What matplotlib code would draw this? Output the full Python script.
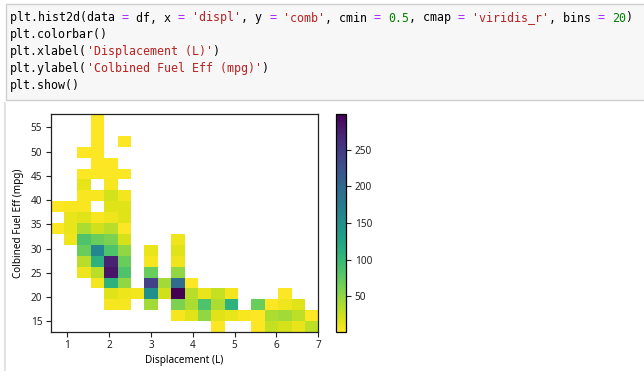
import re
import numpy as np
import matplotlib
matplotlib.use("Agg")
from matplotlib import pyplot as plt
from matplotlib.patches import Rectangle

# bin edges of the 20x20 histogram
x_min, x_max = 0.6, 7.0
y_min, y_max = 12.82, 57.78
n_bins = 20

# counts per cell, top row (highest mpg) first, columns left -> right
counts = [
    [0, 0, 0, 2, 0, 0, 0, 0, 0, 0, 0, 0, 0, 0, 0, 0, 0, 0, 0, 0],
    [0, 0, 0, 2, 0, 0, 0, 0, 0, 0, 0, 0, 0, 0, 0, 0, 0, 0, 0, 0],
    [0, 0, 0, 2, 0, 1, 0, 0, 0, 0, 0, 0, 0, 0, 0, 0, 0, 0, 0, 0],
    [0, 0, 2, 2, 0, 0, 0, 0, 0, 0, 0, 0, 0, 0, 0, 0, 0, 0, 0, 0],
    [0, 0, 0, 2, 2, 0, 0, 0, 0, 0, 0, 0, 0, 0, 0, 0, 0, 0, 0, 0],
    [0, 0, 3, 3, 3, 3, 0, 0, 0, 0, 0, 0, 0, 0, 0, 0, 0, 0, 0, 0],
    [0, 0, 12, 0, 4, 0, 0, 0, 0, 0, 0, 0, 0, 0, 0, 0, 0, 0, 0, 0],
    [0, 0, 4, 4, 21, 6, 0, 0, 0, 0, 0, 0, 0, 0, 0, 0, 0, 0, 0, 0],
    [2, 4, 4, 0, 16, 16, 0, 0, 0, 0, 0, 0, 0, 0, 0, 0, 0, 0, 0, 0],
    [0, 11, 15, 4, 8, 15, 0, 0, 0, 0, 0, 0, 0, 0, 0, 0, 0, 0, 0, 0],
    [3, 11, 39, 23, 33, 3, 0, 0, 0, 0, 0, 0, 0, 0, 0, 0, 0, 0, 0, 0],
    [0, 8, 84, 69, 60, 20, 0, 0, 0, 8, 0, 0, 0, 0, 0, 0, 0, 0, 0, 0],
    [0, 0, 69, 162, 84, 51, 0, 11, 0, 15, 0, 0, 0, 0, 0, 0, 0, 0, 0, 0],
    [0, 0, 33, 108, 270, 69, 0, 5, 0, 8, 0, 0, 0, 0, 0, 0, 0, 0, 0, 0],
    [0, 0, 8, 33, 282, 84, 0, 69, 0, 51, 0, 0, 0, 0, 0, 0, 0, 0, 0, 0],
    [0, 0, 0, 6, 108, 51, 0, 243, 42, 195, 2, 0, 0, 0, 0, 0, 0, 0, 0, 0],
    [0, 0, 0, 0, 15, 8, 6, 150, 23, 299, 33, 11, 27, 6, 0, 0, 0, 3, 0, 0],
    [0, 0, 0, 0, 5, 5, 0, 42, 0, 60, 39, 84, 39, 108, 0, 69, 2, 8, 15, 0],
    [0, 0, 0, 0, 0, 0, 0, 0, 0, 5, 15, 51, 15, 11, 4, 3, 38, 42, 31, 3],
    [0, 0, 0, 0, 0, 0, 0, 0, 0, 0, 0, 0, 2, 0, 0, 2, 27, 20, 11, 31],
]

code_lines = [
    "plt.hist2d(data = df, x = 'displ', y = 'comb', cmin = 0.5, cmap = 'viridis_r', bins = 20)",
    "plt.colorbar()",
    "plt.xlabel('Displacement (L)')",
    "plt.ylabel('Colbined Fuel Eff (mpg)')",
    "plt.show()",
]

W, H = 644, 376
fig = plt.figure(figsize=(W / 100, H / 100), dpi=100)
plt.rcParams['font.family'] = ['Noto Sans', 'DejaVu Sans']


def fx(px):
    return px / W


def fy(py):
    return 1 - py / H


# notebook code cell
fig.patches.append(Rectangle((fx(6), fy(100)), fx(660) - fx(6), fy(4) - fy(100),
                             transform=fig.transFigure, facecolor='#f7f7f7',
                             edgecolor='#cfcfcf', linewidth=1))
fig.add_artist(plt.Line2D([fx(5), fx(5)], [fy(103), fy(370)], transform=fig.transFigure,
                          color='#e3e3e3', linewidth=1.5))

pitch = 7.0
token_re = re.compile(r"('[^']*')|((?<![A-Za-z])\d+\.?\d*)|(=)|([^'=]+?(?=['=]|(?<![A-Za-z])\d|$))")
for i, line in enumerate(code_lines):
    y = 18 + i * 16.8
    for m in token_re.finditer(line):
        tok = m.group(0)
        if m.group(1):
            col = '#ba2121'
        elif m.group(2):
            col = '#008000'
        elif m.group(3):
            col = '#aa22ff'
        else:
            col = '#000000'
        fig.text(fx(10 + m.start() * pitch), fy(y), tok, color=col,
                 family='DejaVu Sans Mono', fontsize=8.35, va='center', ha='left')

# histogram
x_edges = np.linspace(x_min, x_max, n_bins + 1)
y_edges = np.linspace(y_min, y_max, n_bins + 1)
xc = (x_edges[:-1] + x_edges[1:]) / 2
yc = (y_edges[:-1] + y_edges[1:]) / 2
grid = np.array(counts[::-1], dtype=float)
xx, yy = np.meshgrid(xc, yc)

ax = fig.add_axes([fx(50.7), fy(332), fx(318.3) - fx(50.7), fy(114) - fy(332)])
h = ax.hist2d(xx.ravel(), yy.ravel(), bins=[x_edges, y_edges], weights=grid.ravel(),
              cmin=0.5, cmap='viridis_r')
ax.set_xticks([1, 2, 3, 4, 5, 6, 7])
ax.set_yticks([15, 20, 25, 30, 35, 40, 45, 50, 55])
ax.tick_params(labelsize=7.2, length=3.5, width=0.8, pad=2.5, colors='#222222')
ax.set_xlabel('Displacement (L)', fontsize=7.2, labelpad=3)
ax.set_ylabel('Colbined Fuel Eff (mpg)', fontsize=7.2, labelpad=5)
for s in ax.spines.values():
    s.set_linewidth(0.9)
    s.set_color('#222222')

cax = fig.add_axes([fx(336), fy(332), fx(346.3) - fx(336), fy(114) - fy(332)])
cb = fig.colorbar(h[3], cax=cax)
cb.ax.tick_params(labelsize=7.2, length=3.5, width=0.8, pad=2.5, colors='#222222')
cb.outline.set_linewidth(0.9)

fig.savefig('out.png', dpi=100)
